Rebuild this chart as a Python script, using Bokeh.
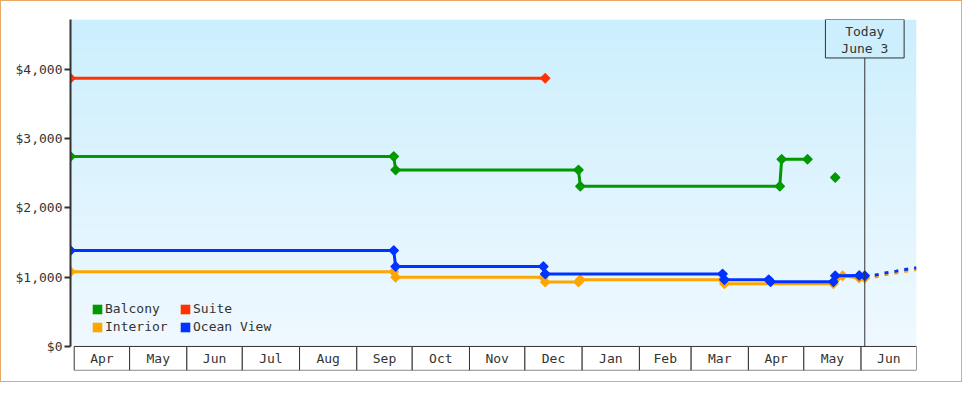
import numpy as np
import pandas as pd
from bokeh.plotting import figure
from bokeh.models import (Range1d, FixedTicker, NumeralTickFormatter, BoxAnnotation,
                          Label, Legend, LegendItem)
from bokeh.core.properties import value
from bokeh.embed import file_html
from bokeh.resources import INLINE

# ---------------- data ----------------
BALCONY_DATES = ["2022-03-30", "2022-09-21", "2022-09-22", "2022-12-30", "2022-12-31",
                 "2023-04-18", "2023-04-19", "2023-05-03"]
BALCONY_PRICES = [2745, 2745, 2550, 2550, 2315, 2315, 2705, 2705]
BALCONY_SOLO_DATES = ["2023-05-18"]
BALCONY_SOLO_PRICES = [2440]

SUITE_DATES = ["2022-03-30", "2022-12-12"]
SUITE_PRICES = [3875, 3875]

INTERIOR_DATES = ["2022-03-30", "2022-09-21", "2022-09-22", "2022-12-11", "2022-12-12",
                  "2022-12-30", "2022-12-31", "2023-03-18", "2023-03-19", "2023-05-17",
                  "2023-05-22", "2023-05-31", "2023-06-03"]
INTERIOR_PRICES = [1080, 1080, 1000, 1000, 930, 930, 965, 965, 905, 905, 1020, 990, 990]

OCEAN_DATES = ["2022-03-30", "2022-09-21", "2022-09-22", "2022-12-11", "2022-12-12",
               "2023-03-18", "2023-03-19", "2023-04-12", "2023-04-13", "2023-05-17",
               "2023-05-18", "2023-05-31", "2023-06-03"]
OCEAN_PRICES = [1385, 1385, 1155, 1155, 1048, 1048, 965, 965, 935, 935, 1020, 1025, 1020]

PROJ_DATES = ["2023-06-03", "2023-06-09", "2023-06-14", "2023-06-20", "2023-06-25", "2023-07-01"]
INTERIOR_PROJ_PRICES = [990, 1005, 1035, 1062, 1085, 1110]
OCEAN_PROJ_PRICES = [1020, 1032, 1062, 1088, 1111, 1136]

MONTH_LABELS = ["Apr", "May", "Jun", "Jul", "Aug", "Sep", "Oct", "Nov", "Dec",
                "Jan", "Feb", "Mar", "Apr", "May", "Jun"]
FIRST_MONTH = "2022-04-01"
Y_TICKS = [0, 1000, 2000, 3000, 4000]
TODAY = "2023-06-03"
TODAY_TEXT = ["Today", "June 3"]
X_START, X_END = "2022-03-30", "2023-07-01"

# ---------------- helpers ----------------
DAY = 86400000.0


def ms(d):
    return pd.Timestamp(d).value / 1e6


def msl(ds):
    return [ms(d) for d in ds]


FONT = "DejaVu Sans Mono"
TXT = "#333333"
GREEN, RED, ORANGE, BLUE = "#009900", "#ff3300", "#ffa500", "#0033ff"

# value extents of the frame (derived from the reference's geometry)
Y_MAX = 340 / 72 * 1000
Y_MIN = -25 / 72 * 1000

x0, x1 = ms(X_START), ms(X_END)
TOTAL_DAYS = (x1 - x0) / DAY

p = figure(width=962, height=382, output_backend="svg", toolbar_location=None,
           x_range=Range1d(x0, x1), y_range=Range1d(Y_MIN, Y_MAX),
           x_axis_location=None, min_border_left=69, min_border_right=47,
           min_border_top=18, min_border_bottom=13, tools="")
p.styles = {"border": "1px solid #E8A868"}
p.outline_line_color = None
p.grid.visible = False
p.background_fill_color = "white"
p.border_fill_color = "white"

# gradient background of the plotting area
N = 256
t = np.linspace(0, 1, N)[:, None]
bot = np.array([240, 249, 255], dtype=float)
top = np.array([204, 239, 253], dtype=float)
rgb = bot + (top - bot) * t
img = np.zeros((N, 1), dtype=np.uint32)
view = img.view(dtype=np.uint8).reshape((N, 1, 4))
view[:, :, 0:3] = rgb[:, None, :].astype(np.uint8)
view[:, :, 3] = 255
p.image_rgba(image=[img], x=x0, y=0, dw=x1 - x0, dh=Y_MAX)

# y axis
ax = p.yaxis[0]
ax.ticker = FixedTicker(ticks=Y_TICKS)
ax.formatter = NumeralTickFormatter(format="$0,0")
ax.bounds = (0, Y_MAX)
ax.axis_line_color = TXT
ax.axis_line_width = 2
ax.major_tick_line_color = TXT
ax.major_tick_line_width = 2
ax.major_tick_out = 6
ax.major_tick_in = 0
ax.minor_tick_line_color = None
ax.major_label_standoff = 2
ax.major_label_text_font = FONT
ax.major_label_text_font_size = "13px"
ax.major_label_text_color = TXT

# month boxes (custom x axis)
starts = pd.date_range(FIRST_MONTH, periods=len(MONTH_LABELS) + 1, freq="MS")
lefts = [s.value / 1e6 for s in starts[:-1]]
rights = [s.value / 1e6 for s in starts[1:]]
mids = [(a + b) / 2 for a, b in zip(lefts, rights)]
p.quad(left=lefts, right=rights, top=0, bottom=Y_MIN * 0.995, fill_color="white",
       line_color=TXT, line_width=1)
p.text(x=mids, y=Y_MIN / 2, text=MONTH_LABELS, text_align="center",
       text_baseline="middle", text_font=value(FONT), text_font_size="13px",
       text_color=TXT)


def markers(xs, prices, color):
    p.scatter(xs, prices, marker="square", angle=np.pi / 4, size=6.3,
              fill_color=color, line_color=color, line_width=1.5, line_join="round")


def series(dates, prices, color, dash="solid", with_markers=True):
    xs = msl(dates)
    p.line(xs, prices, line_color=color, line_width=3, line_dash=dash)
    if with_markers:
        markers(xs, prices, color)


series(BALCONY_DATES, BALCONY_PRICES, GREEN)
markers(msl(BALCONY_SOLO_DATES), BALCONY_SOLO_PRICES, GREEN)
series(SUITE_DATES, SUITE_PRICES, RED)
series(INTERIOR_DATES, INTERIOR_PRICES, ORANGE)
series(PROJ_DATES, INTERIOR_PROJ_PRICES, ORANGE, dash="4 6", with_markers=False)
series(OCEAN_DATES, OCEAN_PRICES, BLUE)
series(PROJ_DATES, OCEAN_PROJ_PRICES, BLUE, dash="4 6", with_markers=False)

# today marker
tms = ms(TODAY)
box_bottom = (360 - 60) / 72 * 1000
p.segment(x0=[tms], y0=[0], x1=[tms], y1=[box_bottom], line_color=TXT, line_width=1)
half = 40 / (860 / TOTAL_DAYS) * DAY
p.add_layout(BoxAnnotation(left=tms - half, right=tms + half, bottom=box_bottom, top=Y_MAX,
                           fill_color="#cdeffd", fill_alpha=1.0, line_color=TXT,
                           line_width=1, line_alpha=1.0))
for txt, ypix in zip(TODAY_TEXT, [32, 50]):
    p.add_layout(Label(x=tms, y=(360 - ypix) / 72 * 1000, text=txt,
                       text_align="center", text_baseline="middle", text_font=FONT,
                       text_font_size="13px", text_color=TXT))


# legend (two columns); proxies sit outside the visible x range
def swatch(color):
    return p.quad(left=[x0 - 20 * DAY], right=[x0 - 19 * DAY], top=[0], bottom=[0],
                  fill_color=color, line_color=None)


def make_legend(items, xloc):
    lg = Legend(items=[LegendItem(label=l, renderers=[swatch(c)]) for l, c in items],
                location=(xloc, 36), orientation="vertical", glyph_width=12,
                glyph_height=12, label_height=12, label_standoff=2, spacing=3,
                padding=0, margin=0, border_line_color=None, background_fill_alpha=0,
                label_text_font=FONT, label_text_font_size="13px", label_text_color=TXT)
    p.add_layout(lg)


make_legend([("Balcony", GREEN), ("Interior", ORANGE)], 21)
make_legend([("Suite", RED), ("Ocean View", BLUE)], 109)

open("out.html", "w").write(file_html(p, INLINE))
